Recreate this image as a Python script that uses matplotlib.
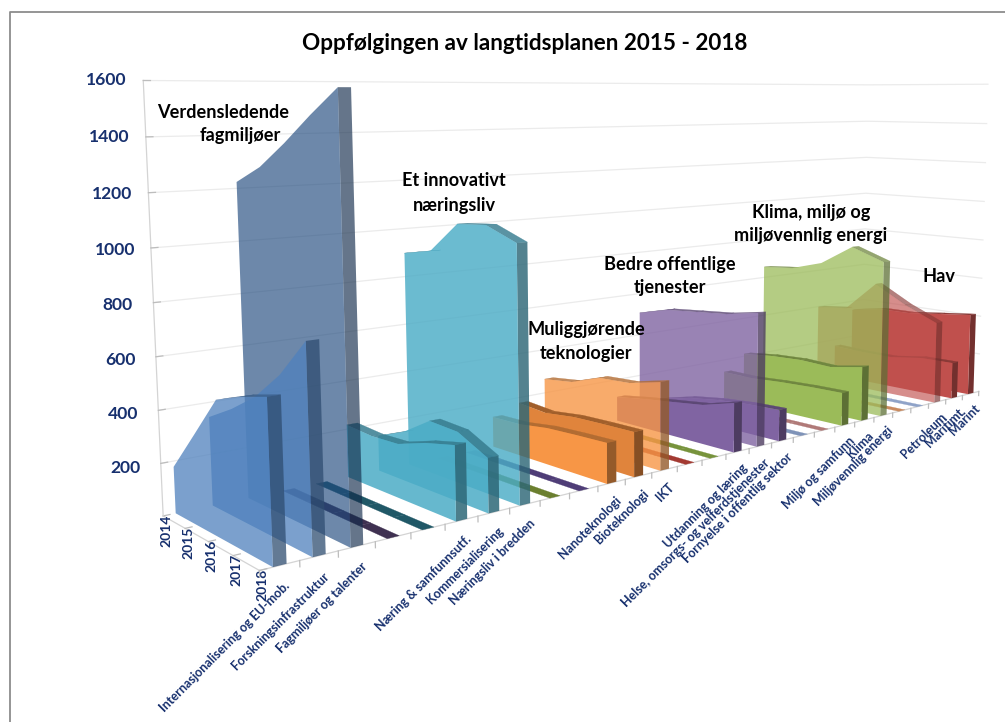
import numpy as np
import matplotlib
matplotlib.use('Agg')
import matplotlib.pyplot as plt
from matplotlib.lines import Line2D
from mpl_toolkits.mplot3d.art3d import Poly3DCollection
from mpl_toolkits.mplot3d import proj3d

plt.rcParams['font.family'] = ['Lato', 'DejaVu Sans']
plt.rcParams['font.weight'] = 'bold'

years = [2014, 2015, 2016, 2017, 2018]
z_ticks = [200, 400, 600, 800, 1000, 1200, 1400, 1600]

categories = ['Internasjonalisering og EU-mob.', 'Forskningsinfrastruktur', 'Fagmiljøer og talenter', '', '',
              'Næring & samfunnsutf.', 'Kommersialisering', 'Næringsliv i bredden', '', '',
              'Nanoteknologi', 'Bioteknologi', 'IKT', '', '',
              'Utdanning og læring', 'Helse, omsorgs- og velferdstjenester', 'Fornyelse i offentlig sektor', '', '',
              'Miljø og samfunn', 'Klima', 'Miljøvennlig energi', '', '',
              'Petroleum', 'Maritimt', 'Marint']

flat = [0, 0, 0, 0, 0]
fagmiljo = [[178, 337, 498, 542, 575], [344, 409, 487, 597, 742], [1224, 1288, 1380, 1481, 1575], flat, flat]
naringsliv = [[218, 209, 215, 257, 287], [147, 201, 282, 275, 213], [898, 924, 1047, 1057, 1004], flat, flat]
teknologi = [[134, 138, 157, 164, 169], [175, 164, 181, 186, 189], [264, 282, 331, 340, 375], flat, flat]
tjenester = [[115, 139, 158, 178, 220], [506, 544, 558, 572, 600], [61, 100, 123, 137, 144], flat, flat]
klima = [[137, 136, 147, 154, 157], [212, 230, 238, 232, 261], [655, 668, 712, 809, 753], flat, flat]
hav = [[398, 415, 565, 477, 408], [164, 158, 158, 182, 184], [350, 379, 380, 399, 417]]

colors = ['#4F81BD', '#4F81BD', '#1F497D', '#3F3151', '#205867',
          '#4BACC6', '#4BACC6', '#4BACC6', '#6B7F2F', '#4F3D77',
          '#F79646', '#E0843C', '#F79646', '#A33A32', '#77933C',
          '#8064A2', '#8064A2', '#8064A2', '#7F93B8', '#B07A78',
          '#9BBB59', '#9BBB59', '#9BBB59', '#C98B60', '#8FA3C8',
          '#C0504D', '#C0504D', '#C0504D']
alphas = [.75, .75, .65, 1, 1,
          .85, .85, .82, 1, 1,
          1, 1, .8, 1, 1,
          1, .8, 1, 1, 1,
          1, 1, .75, 1, 1,
          .65, 1, 1]

notes = [(223, 113, 'Verdensledende'), (240, 136, 'fagmiljøer'),
         (454, 181, 'Et innovativt'), (454, 205, 'næringsliv'),
         (586, 329, 'Muliggjørende'), (586, 353, 'teknologier'),
         (670, 265, 'Bedre offentlige'), (670, 288, 'tjenester'),
         (811, 212, 'Klima, miljø og'), (811, 235, 'miljøvennlig energi'),
         (939, 277, 'Hav')]

values = fagmiljo + naringsliv + teknologi + tjenester + klima + hav
depth = [2018 - y for y in years]
W, H = 1005, 722
NAVY = '#17306E'
ELEV, AZIM, FOCAL, BOX = 7.247, -131.751, 0.258, (2.536, 0.487, 1)
CX, CY, SCALE = 641.28, 265.84, 5275.78
GAP = 0.33

fig = plt.figure(figsize=(W / 100, H / 100), dpi=100)
ax = fig.add_axes([0.1, 0.1, 500 / W, 500 / H], projection='3d', computed_zorder=False)
ax.set_xlim(0, 28, view_margin=0)
ax.set_ylim(0, 4, view_margin=0)
ax.set_zlim(0, 1600, view_margin=0)
ax.view_init(ELEV, AZIM)
ax.set_proj_type('persp', focal_length=FOCAL)
ax.set_box_aspect(BOX)

# place the axes so the projected centre and scale land where the reference has them
ax.apply_aspect()
p0, p1 = ax.transData.transform([(0, 0), (0.01, 0.01)])
k = (p1 - p0)[0] / 0.01
side = 500 * SCALE / k
fx, fy = (p0[0] - 100.5) / 500, (p0[1] - 72.2) / 500
ax.set_position([(CX - fx * side) / W, (H - CY - fy * side) / H, side / W, side / H])
ax.patch.set_alpha(0)

M = ax.get_proj()


def facing_up(xa, xb, d0, d1, z0, z1):
    xs, ys, zs = [xa, xa, xb, xb], [d0, d1, d1, d0], [z0, z1, z1, z0]
    u, v, _ = proj3d.proj_transform(np.array(xs, float), np.array(ys, float), np.array(zs, float), M)
    area = np.sum(u * np.roll(v, -1) - np.roll(u, -1) * v)
    u, v, _ = proj3d.proj_transform(np.array(xs, float), np.array(ys, float), np.zeros(4), M)
    ref = np.sum(u * np.roll(v, -1) - np.roll(u, -1) * v)
    return area * ref > 0


def shade(hex_color, f, a):
    rgb = np.array(matplotlib.colors.to_rgb(hex_color)) * f
    return (*rgb, a)


for s in range(len(categories) - 1, -1, -1):
    row, c, a = values[s], colors[s], alphas[s]
    xa, xb = s + GAP, s + 1 - GAP
    base = (28 - s) * 10
    tops = []
    for i in range(4):
        if facing_up(xa, xb, depth[i], depth[i + 1], row[i], row[i + 1]):
            tops.append([(xa, depth[i], row[i]), (xa, depth[i + 1], row[i + 1]),
                         (xb, depth[i + 1], row[i + 1]), (xb, depth[i], row[i])])
    top_color = shade(c, 1.0 if max(row) == 0 else 0.72, a)
    if tops:
        ax.add_collection3d(Poly3DCollection(tops, facecolors=[top_color], edgecolors=[top_color],
                                             linewidths=0.2, zorder=base))
    if max(row) > 0:
        cap = [(xa, 0, 0), (xb, 0, 0), (xb, 0, row[-1]), (xa, 0, row[-1])]
        ax.add_collection3d(Poly3DCollection([cap], facecolors=[shade(c, 0.6, a)], edgecolors='none',
                                             linewidths=0, zorder=base + 1))
        front = [(xa, d, 0) for d in depth[::-1]] + [(xa, d, v) for d, v in zip(depth, row)]
        ax.add_collection3d(Poly3DCollection([front], facecolors=[shade(c, 1, a)], edgecolors='none',
                                             linewidths=0, zorder=base + 2))

# boundary tick marks between category slots
for b in range(29):
    ax.plot([b, b], [0, 0], [0, -22], color='#bdbdbd', lw=0.9, zorder=1)

ax.set_xticks([s + 0.5 for s in range(28)])
ax.set_xticklabels(categories, rotation=45, ha='right', va='top', rotation_mode='anchor',
                   fontsize=9, color=NAVY, fontweight='bold')
ax.set_yticks(depth)
ax.set_yticklabels(years, rotation=90, ha='center', va='top', fontsize=10, color=NAVY, fontweight='bold')
ax.set_zticks(z_ticks)
ax.set_zticklabels(z_ticks, fontsize=12.6, color=NAVY, fontweight='bold', va='center')
ax.tick_params(axis='x', pad=2)
ax.tick_params(axis='y', pad=-9)
ax.tick_params(axis='z', pad=3)
ax.tick_params(axis='both', color='#bdbdbd')

for axis in (ax.xaxis, ax.yaxis, ax.zaxis):
    axis.set_pane_color((1, 1, 1, 0))
    axis.pane.set_edgecolor('none')
    axis.line.set_color('#d4d4d4')
    axis.line.set_linewidth(0.9)
    axis._axinfo['tick']['color'] = '#bdbdbd'
    axis._axinfo['tick']['linewidth'] = {True: 0.9, False: 0.9}
    axis._axinfo['tick']['inward_factor'] = 0
    axis._axinfo['tick']['outward_factor'] = 0.08
ax.xaxis._axinfo['tick']['outward_factor'] = 0
ax.grid(True)
ax.xaxis._axinfo['grid'].update(color=(1, 1, 1, 0), linewidth=0)
ax.yaxis._axinfo['grid'].update(color=(1, 1, 1, 0), linewidth=0)
ax.zaxis._axinfo['grid'].update(color='#ebebeb', linewidth=0.9)

fig.text(525 / W, 1 - 44 / H, 'Oppfølgingen av langtidsplanen 2015 - 2018', ha='center', va='center',
         fontsize=16.2, color='black', fontweight='bold')
for x, y, t in notes:
    fig.text(x / W, 1 - y / H, t, ha='center', va='center', fontsize=13.1, color='black', fontweight='bold')

fig.add_artist(Line2D([10 / W, 10 / W, 1], [0, 1 - 12 / H, 1 - 12 / H], color='#8c8c8c', lw=1.3))
fig.savefig('out.png', dpi=100)
